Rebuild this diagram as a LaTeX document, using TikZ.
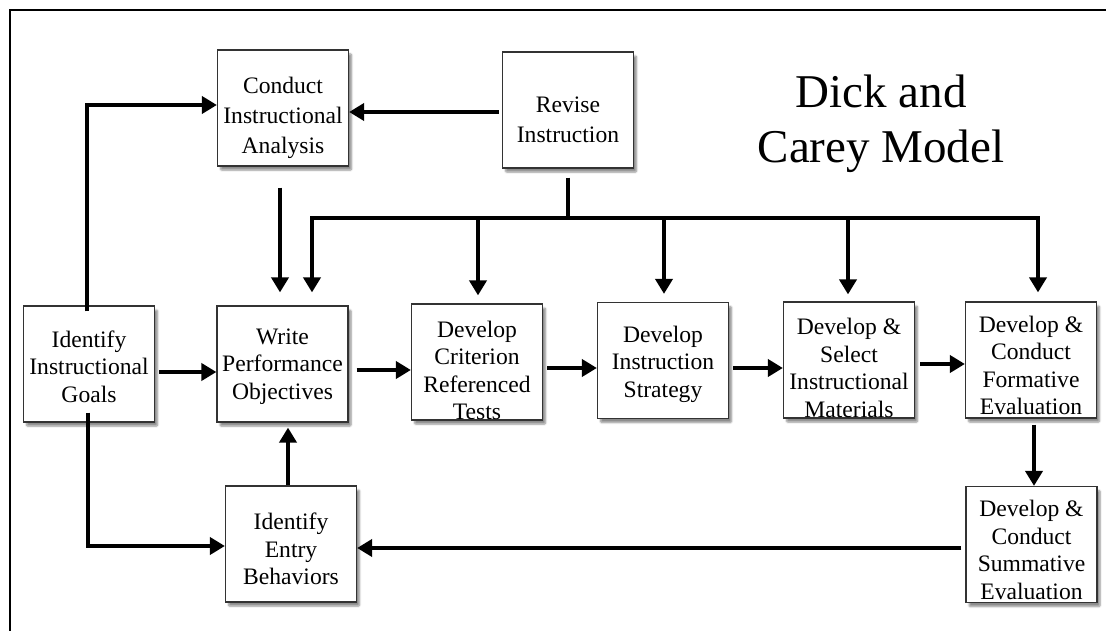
\documentclass[tikz,border=0pt]{standalone}
\usepackage{fontspec}
\setmainfont{Liberation Serif}
\usetikzlibrary{arrows.meta,shadows.blur}
\tikzset{
  box/.style={draw=black!80, line width=1.2pt, fill=white, minimum width=131pt, minimum height=116pt, inner sep=0pt,
    blur shadow={shadow xshift=3pt, shadow yshift=-4pt, shadow blur steps=6, shadow blur extra rounding=1pt, shadow opacity=45}},
  txt/.style={align=center, inner sep=0pt, font=\fontsize{23.6}{27.6}\selectfont},
  conn/.style={line width=4pt, black},
  arr/.style={conn, -{Triangle[length=15pt,width=17pt]}},
}
\begin{document}
\begin{tikzpicture}[x=1pt,y=-1pt]
\useasboundingbox (0,0) rectangle (1106,631);
\draw[line width=2pt] (10,631) -- (10,10) -- (1106,10);

% boxes
\node[box] (conduct) at (283,108) {};
\node[txt] (conduct-t) at (283,118) {Conduct\\[2.4pt]Instructional\\[2.4pt]Analysis};
\node[box] (revise) at (568,110) {};
\node[txt] (revise-t) at (568,120) {Revise\\[2.4pt]Instruction};
\node[box] (goals) at (89,364) {};
\node[txt] (goals-t) at (89,366.5) {Identify\\Instructional\\Goals};
\node[box] (write) at (282.5,364) {};
\node[txt] (write-t) at (282.5,366.5) {Write\\Performance\\Objectives};
\node[box] (crit) at (477,362) {};
\node[txt] (crit-t) at (477,370.5) {Develop\\Criterion\\Referenced\\Tests};
\node[box] (strat) at (663,360.5) {};
\node[txt] (strat-t) at (663,364) {Develop\\Instruction\\Strategy};
\node[box] (mat) at (849,360) {};
\node[txt] (mat-t) at (849,368) {Develop \&\\Select\\Instructional\\Materials};
\node[box] (form) at (1031,360) {};
\node[txt] (form-t) at (1031,365.5) {Develop \&\\Conduct\\Formative\\Evaluation};
\node[box] (summ) at (1031.5,544.5) {};
\node[txt] (summ-t) at (1031.5,550) {Develop \&\\Conduct\\Summative\\Evaluation};
\node[box] (entry) at (291,544) {};
\node[txt] (entry-t) at (291,549) {Identify\\Entry\\Behaviors};

% title
\node[align=center, inner sep=0pt, font=\fontsize{47}{55}\selectfont] (title) at (881,124) {Dick and\\Carey Model};

% connectors
\coordinate (bus) at (568,218);
\draw[arr] ([xshift=-2pt,yshift=-6pt]goals.north) |- (conduct.west |- 0,105);
\draw[arr, shorten <=3pt] (revise.west |- 0,112) -- (conduct.east |- 0,112);
\draw[arr] ([xshift=-3pt,yshift=-21pt]conduct.south) -- ([xshift=-2.5pt,yshift=13pt]write.north);
\draw[conn] ([yshift=-9pt]revise.south) -- (bus);
\draw[conn] (310,218) -- (1040,218);
\draw[arr] (bus) -| ([xshift=29.5pt,yshift=13pt]write.north);
\draw[arr] (crit.north |- bus) ++(1,0) -- ([xshift=1pt,yshift=8pt]crit.north);
\draw[arr] (strat.north |- bus) ++(1,0) -- ([xshift=1pt,yshift=8pt]strat.north);
\draw[arr] (mat.north |- bus) ++(-1,0) -- ([xshift=-1pt,yshift=7pt]mat.north);
\draw[arr] (bus) -| ([xshift=7pt,yshift=9pt]form.north);
\draw[arr, shorten <=4pt] (goals.east |- 0,372) -- (write.west |- 0,372);
\draw[arr, shorten <=8pt] (write.east |- 0,370) -- (crit.west |- 0,370);
\draw[arr, shorten <=4pt] (crit.east |- 0,368) -- (strat.west |- 0,368);
\draw[arr, shorten <=4pt] (strat.east |- 0,368) -- (mat.west |- 0,368);
\draw[arr, shorten <=5pt] (mat.east |- 0,364) -- (form.west |- 0,364);
\draw[arr, shorten <=6pt] ([xshift=3pt]form.south) -- ([xshift=2.5pt]summ.north);
\draw[arr, shorten <=4pt] (summ.west |- 0,548) -- (entry.east |- 0,548);
\draw[arr] ([xshift=-1pt,yshift=10pt]goals.south) |- (entry.west |- 0,546);
\draw[arr, shorten >=5pt] ([xshift=-3pt]entry.north) -- ([xshift=5.5pt]write.south);
\end{tikzpicture}
\end{document}
